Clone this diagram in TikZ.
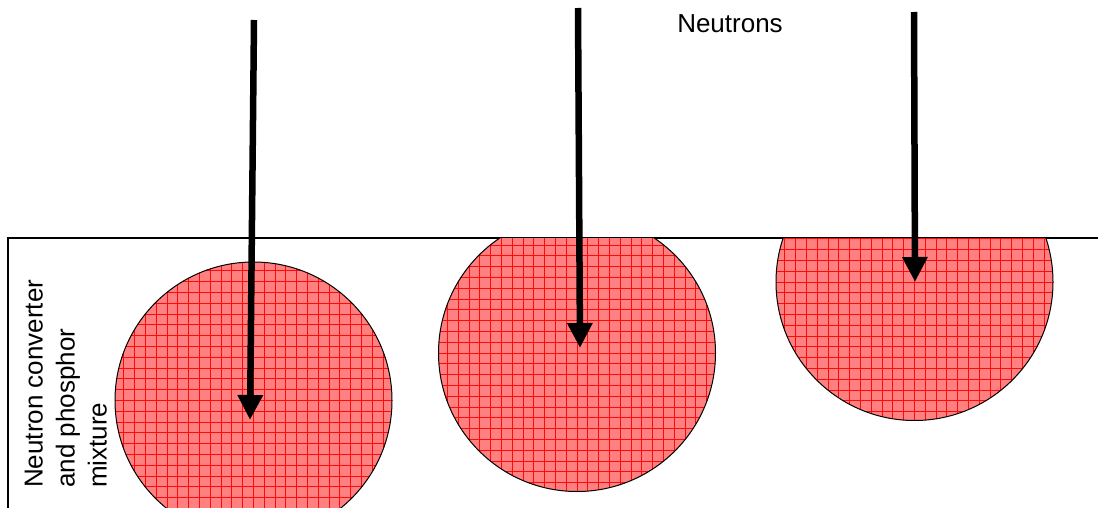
\documentclass[tikz,border=0pt]{standalone}
\usepackage{fontspec}
\setmainfont{Liberation Sans}
\usetikzlibrary{arrows.meta}

\definecolor{grainfill}{RGB}{255,128,128}
\definecolor{gridred}{RGB}{255,10,10}

\begin{document}
\begin{tikzpicture}[
    x=1pt, y=-1pt,
    font=\fontsize{26}{32}\selectfont,
    grain/.style={
        circle,
        draw=black,
        line width=1pt,
        minimum size=277pt,
        inner sep=0pt,
        fill=grainfill,
        path picture={
            \draw[gridred, line width=0.9pt] (path picture bounding box.south west) grid[step=10.8pt] (path picture bounding box.north east);
        }
    },
    neutron/.style={line width=6.5pt, -{Triangle[length=25pt,width=24pt]}},
    textlabel/.style={inner sep=0pt, align=left}
]

\useasboundingbox (0,0) rectangle (1098,508);

% layer surface
\coordinate (frameBL) at (8,508);
\coordinate (frameTL) at (8,238);
\coordinate (frameTR) at (1098,238);
\draw[line width=1.2pt] (frameBL) -- (frameTL) -- (frameTR);

\begin{scope}
    \clip (8,238) rectangle (1098,508);
    \node[grain] (grainA) at (253.5,400.5) {};
    \node[grain] (grainB) at (577,353) {};
    \node[grain] (grainC) at (914.5,282) {};
\end{scope}

\node[textlabel, rotate=90, anchor=north west] (mixtureText) at (24.5,488) {Neutron converter\\and phosphor\\mixture};
\node[anchor=base] (neutronsText) at (730,33) {Neutrons};

% incoming neutrons
\coordinate (srcA) at (254,20);
\coordinate (hitA) at (250,420);
\coordinate (srcB) at (578,8);
\coordinate (hitB) at (580,348);
\coordinate (srcC) at (914,12);
\coordinate (hitC) at (915,282);

\draw[neutron] (srcA) -- (hitA);
\draw[neutron] (srcB) -- (hitB);
\draw[neutron] (srcC) -- (hitC);

\end{tikzpicture}
\end{document}
